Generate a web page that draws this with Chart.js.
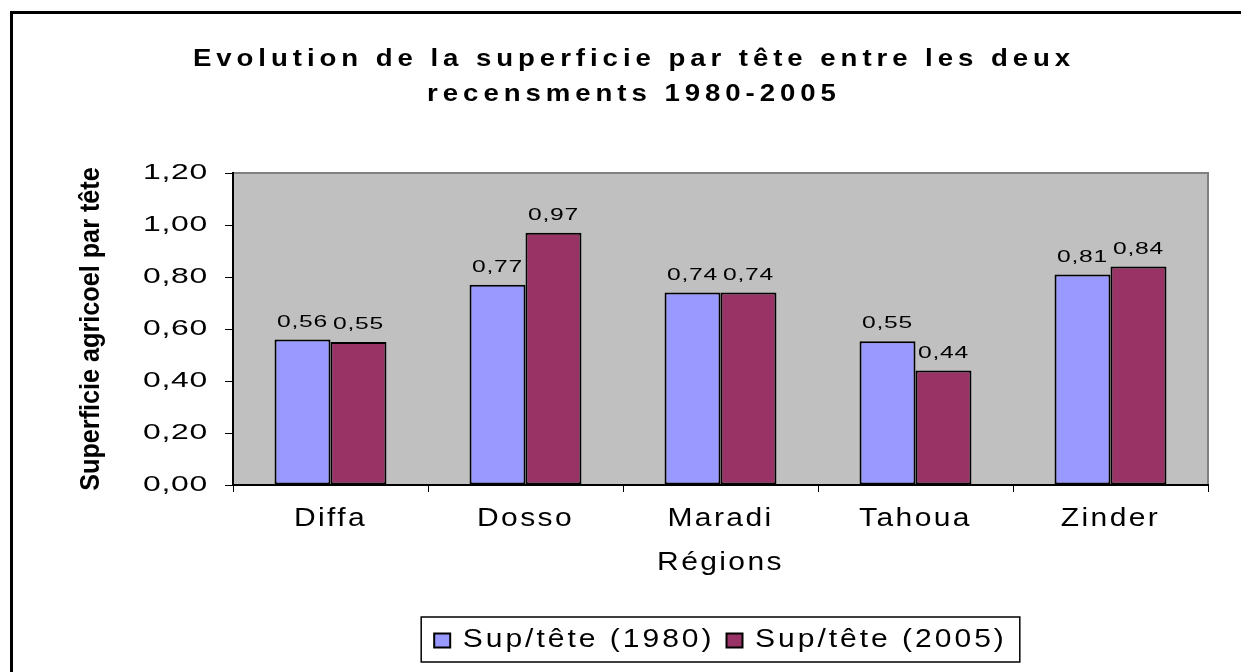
<!DOCTYPE html>
<html>
<head>
<meta charset="utf-8">
<title>Superficie par tête 1980-2005</title>
<script src="https://cdn.jsdelivr.net/npm/chart.js"></script>
<style>
    body { margin: 0; background: #fff; overflow: hidden; }
    #frame { position: absolute; left: 10px; top: 11px; width: 1300px; height: 700px; border-left: 3px solid #000; border-top: 3px solid #000; }
    #chart { position: absolute; left: 0; top: 0; }
</style>
</head>
<body>
<div id="frame"></div>
<canvas id="chart" width="1241" height="672"></canvas>
<script>
    var regions = ['Diffa', 'Dosso', 'Maradi', 'Tahoua', 'Zinder'];
    var sup1980 = [0.56, 0.77, 0.74, 0.553, 0.81];
    var sup2005 = [0.55, 0.97, 0.74, 0.44, 0.84];
    var yMin = 0, yMax = 1.2, yStep = 0.2;

    var FONT = '"Liberation Sans", Arial, sans-serif';
    Chart.defaults.font.family = FONT;
    Chart.defaults.color = '#000';

    function fmt(v) { return Number(v).toFixed(2).replace('.', ','); }

    // the Excel original draws wide text: run a draw/fit method with a
    // horizontal stretch (k) and some letter spacing (sp)
    var proto = CanvasRenderingContext2D.prototype;
    function wideText(obj, names, k, sp) {
        names.forEach(function(n) {
            var orig = obj[n];
            if (!orig || orig._wide) return;
            var f = function() {
                var c = this.ctx, prev = c.letterSpacing;
                c.letterSpacing = sp + 'px';
                c.fillText = function(t, x, y) {
                    this.save();
                    this.translate(x, y);
                    this.scale(k, 1);
                    proto.fillText.call(this, t, 0, 0);
                    this.restore();
                };
                c.measureText = function(t) {
                    var m = proto.measureText.call(this, t);
                    return { width: m.width * k, actualBoundingBoxAscent: m.actualBoundingBoxAscent, actualBoundingBoxDescent: m.actualBoundingBoxDescent };
                };
                try { return orig.apply(this, arguments); }
                finally { c.letterSpacing = prev; delete c.fillText; delete c.measureText; }
            };
            f._wide = true;
            obj[n] = f;
        });
    }

    var wide = {
        id: 'wide',
        afterInit: function(chart) {
            wideText(chart.titleBlock, ['draw'], 1.15, 4.3);
            wideText(chart.legend, ['fit', 'draw'], 1.2, 2.5);
        },
        beforeLayout: function(chart) {
            wideText(chart.scales.x, ['drawLabels', 'drawTitle'], 1.2, 2);
            wideText(chart.scales.y, ['drawLabels'], 1.45, 0.5);
            wideText(chart.scales.y, ['drawTitle'], 0.9, 0);
        }
    };

    var plotBg = {
        id: 'plotBg',
        beforeDraw: function(chart) {
            var a = chart.chartArea, c = chart.ctx;
            c.save();
            c.fillStyle = '#c0c0c0';
            c.fillRect(a.left, a.top, a.right - a.left, a.bottom - a.top);
            c.strokeStyle = '#808080';
            c.lineWidth = 2;
            c.beginPath();
            c.moveTo(a.left, a.top);
            c.lineTo(a.right, a.top);
            c.lineTo(a.right, a.bottom);
            c.stroke();
            c.restore();
        }
    };

    var barLabels = {
        id: 'barLabels',
        afterDatasetsDraw: function(chart) {
            var c = chart.ctx;
            c.save();
            c.font = '17px ' + FONT;
            c.letterSpacing = '0.5px';
            c.fillStyle = '#000';
            c.textAlign = 'center';
            c.textBaseline = 'bottom';
            chart.data.datasets.forEach(function(ds, i) {
                chart.getDatasetMeta(i).data.forEach(function(bar, j) {
                    c.save();
                    c.translate(bar.x, bar.y - 9);
                    c.scale(1.45, 1);
                    c.fillText(fmt(ds.data[j]), 0, 0);
                    c.restore();
                });
            });
            c.restore();
        }
    };

    var legendFrame = {
        id: 'legendFrame',
        afterDraw: function(chart) {
            var hb = chart.legend.legendHitBoxes;
            if (!hb || !hb.length) return;
            var minX = Math.min.apply(null, hb.map(function(h) { return h.left; }));
            var maxX = Math.max.apply(null, hb.map(function(h) { return h.left + h.width; }));
            var c = chart.ctx;
            c.save();
            c.strokeStyle = '#000';
            c.lineWidth = 1.5;
            c.strokeRect(minX - 13, hb[0].top - 11, maxX - minX + 26, hb[0].height + 20);
            c.restore();
        }
    };

    var ctx = document.getElementById('chart').getContext('2d');
    var chart = new Chart(ctx, {
        type: 'bar',
        data: {
            labels: regions,
            datasets: [{
                label: 'Sup/tête (1980)',
                data: sup1980,
                backgroundColor: '#9999ff',
                borderColor: '#000',
                borderWidth: 2,
                borderSkipped: false
            }, {
                label: 'Sup/tête (2005)',
                data: sup2005,
                backgroundColor: '#993366',
                borderColor: '#000',
                borderWidth: 2,
                borderSkipped: false
            }]
        },
        options: {
            responsive: false,
            animation: false,
            categoryPercentage: 0.574,
            barPercentage: 1,
            layout: { padding: { top: 42, right: 33, bottom: 9, left: 60 } },
            plugins: {
                title: {
                    display: true,
                    text: ['Evolution de la superficie par tête entre les deux', 'recensments 1980-2005'],
                    font: { size: 24, weight: 'bold', lineHeight: '35px' },
                    color: '#000',
                    padding: { top: 0, bottom: 61 }
                },
                legend: {
                    position: 'bottom',
                    fullSize: false,
                    labels: { font: { size: 25 }, color: '#000', boxWidth: 16, boxHeight: 14, padding: 12 }
                },
                tooltip: { enabled: false }
            },
            scales: {
                x: {
                    grid: { drawOnChartArea: false, color: '#000', tickLength: 7, offset: true },
                    border: { color: '#000', width: 2 },
                    ticks: { font: { size: 25 }, color: '#000', padding: 12 },
                    title: { display: true, text: 'Régions', font: { size: 25 }, color: '#000', padding: { top: 0, bottom: 38 } },
                    afterFit: function(s) { s.height = 131; }
                },
                y: {
                    min: yMin,
                    max: yMax,
                    ticks: { stepSize: yStep, callback: fmt, font: { size: 22 }, color: '#000', padding: 17 },
                    grid: { drawOnChartArea: false, color: '#000', tickLength: 8 },
                    border: { color: '#000', width: 2 },
                    title: { display: true, text: 'Superficie agricoel par tête', font: { size: 28, weight: 'bold' }, color: '#000', padding: { top: 14, bottom: 0 } },
                    afterFit: function(s) { s.width = 173; }
                }
            }
        },
        plugins: [wide, plotBg, barLabels, legendFrame]
    });
</script>
</body>
</html>
